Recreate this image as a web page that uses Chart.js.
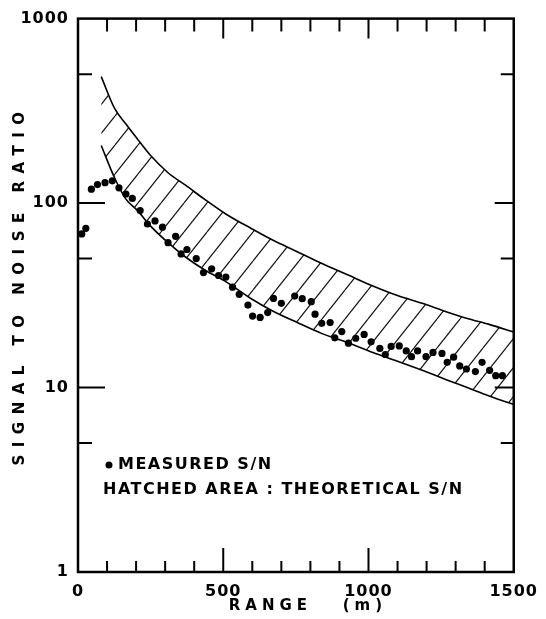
<!DOCTYPE html>
<html>
<head>
<meta charset="utf-8">
<script src="https://cdn.jsdelivr.net/npm/chart.js@4"></script>
<style>
  body { margin: 0; background: #fff; }
  #wrap { width: 546px; height: 619px; }
</style>
</head>
<body>
<div id="wrap"><canvas id="snChart" width="546" height="619"></canvas></div>
<script>
// measured S/N (dots)
var measuredRange = [13, 27, 46, 67, 93, 118, 141, 165, 187, 214,
    239, 265, 291, 310, 336, 355, 375, 407, 432, 460,
    484, 509, 532, 555, 585, 601, 627, 653, 673, 700,
    746, 772, 803, 816, 839, 868, 884, 908, 931, 956,
    985, 1009, 1039, 1058, 1078, 1106, 1130, 1148, 1169, 1198,
    1222, 1253, 1271, 1293, 1314, 1337, 1368, 1391, 1417, 1438, 1461];
var measuredSN = [68, 73, 119, 126, 129, 132, 121, 112, 106, 91,
    77, 80, 74, 61, 66, 53, 56, 50, 42, 44,
    40.5, 39.7, 35, 32, 28, 24.4, 24, 25.5, 30.4, 28.6,
    31.3, 30.3, 29.2, 25, 22.3, 22.5, 18.6, 20.1, 17.4, 18.5,
    19.4, 17.7, 16.3, 15.1, 16.7, 16.8, 15.8, 14.7, 15.8, 14.7,
    15.5, 15.3, 13.7, 14.6, 13.1, 12.6, 12.2, 13.7, 12.4, 11.6, 11.6];

// theoretical S/N band (hatched)
var theoRange = [80, 125, 165, 205, 250, 310, 370, 435, 510, 595, 670, 755, 840, 930, 1015, 1100, 1185, 1270, 1340, 1415, 1500];
var theoUpper = [485, 328, 268, 222, 181, 146, 125, 105, 87, 73, 63, 54.5, 47, 40.7, 35.5, 31.5, 28.6, 25.7, 23.7, 22, 20];
var theoLower = [205, 138, 105, 91, 75, 61, 51, 43.5, 37.4, 30.4, 26, 22.5, 19.6, 17.5, 15.5, 13.9, 12.4, 11, 10, 9, 8.1];

var xTickLabels = [0, 500, 1000, 1500];
var yTickLabels = [1, 10, 100, 1000];

var legendLines = ['MEASURED S/N', 'HATCHED AREA : THEORETICAL S/N'];
var xTitle = 'RANGE   (m)';
var yTitle = 'SIGNAL TO NOISE RATIO';

function pts(xs, ys) {
    return xs.map(function (x, i) { return { x: x, y: ys[i] }; });
}

function hatch() {
    var w = 23, h = 29;
    var c = document.createElement('canvas');
    c.width = w; c.height = h;
    var g = c.getContext('2d');
    g.strokeStyle = '#111';
    g.lineWidth = 1.2;
    [-w, 0, w].forEach(function (o) {
        g.beginPath();
        g.moveTo(o, h);
        g.lineTo(o + w, 0);
        g.stroke();
    });
    return g.createPattern(c, 'repeat');
}

var FONT = '"DejaVu Sans", sans-serif';

var paperPlugin = {
    id: 'paper',
    beforeDraw: function (chart) {
        chart.ctx.letterSpacing = '1px';
    },
    afterDraw: function (chart) {
        var ctx = chart.ctx, a = chart.chartArea;
        var xs = chart.scales.x, ys = chart.scales.y;
        ctx.save();
        ctx.strokeStyle = '#000';
        ctx.fillStyle = '#000';
        // inward ticks
        ctx.lineWidth = 2;
        for (var v = 100; v < 1500; v += 100) {
            var px = xs.getPixelForValue(v);
            var big = (v % 500 === 0);
            ctx.beginPath();
            ctx.moveTo(px, a.bottom); ctx.lineTo(px, a.bottom - (big ? 24 : 11));
            ctx.moveTo(px, a.top); ctx.lineTo(px, a.top + (big ? 20 : 13));
            ctx.stroke();
        }
        [5, 10, 50, 100, 500].forEach(function (v) {
            var py = ys.getPixelForValue(v);
            var big = (v === 10 || v === 100);
            ctx.beginPath();
            ctx.moveTo(a.left, py); ctx.lineTo(a.left + (big ? 27 : 14), py);
            ctx.moveTo(a.right, py); ctx.lineTo(a.right - (big ? 19 : 13), py);
            ctx.stroke();
        });
        // frame
        ctx.lineWidth = 2.5;
        ctx.strokeRect(a.left, a.top, a.right - a.left, a.bottom - a.top);

        // legend notes inside the plot
        ctx.font = 'bold 16px ' + FONT;
        ctx.letterSpacing = '1.5px';
        ctx.textBaseline = 'middle';
        ctx.textAlign = 'left';
        ctx.beginPath();
        ctx.arc(a.left + 31, 465, 3.5, 0, Math.PI * 2);
        ctx.fill();
        ctx.fillText(legendLines[0], a.left + 40, 465);
        ctx.fillText(legendLines[1], a.left + 25, 490);

        // axis titles
        ctx.font = 'bold 15px ' + FONT;
        ctx.letterSpacing = '5px';
        ctx.textAlign = 'center';
        ctx.fillText(xTitle, (a.left + a.right) / 2 + 12, 606);
        ctx.letterSpacing = '7.5px';
        ctx.translate(20, 285);
        ctx.rotate(-Math.PI / 2);
        ctx.fillText(yTitle, 0, 0);
        ctx.restore();
    }
};

var chartCanvas = document.getElementById('snChart');
var snChart = new Chart(chartCanvas, {
    type: 'scatter',
    data: {
        datasets: [{
                label: 'theoretical upper',
                type: 'line',
                data: pts(theoRange, theoUpper),
                borderColor: '#000',
                borderWidth: 1.6,
                pointRadius: 0,
                cubicInterpolationMode: 'monotone',
                fill: '+1',
                backgroundColor: hatch()
            }, {
                label: 'theoretical lower',
                type: 'line',
                data: pts(theoRange, theoLower),
                borderColor: '#000',
                borderWidth: 1.6,
                pointRadius: 0,
                cubicInterpolationMode: 'monotone',
                fill: false
            }, {
                label: 'measured',
                data: pts(measuredRange, measuredSN),
                pointRadius: 3.6,
                pointBackgroundColor: '#000',
                pointBorderWidth: 0
            }]
    },
    options: {
        responsive: false,
        animation: false,
        layout: {
            padding: { top: 17, right: 32, left: 0, bottom: 0 }
        },
        plugins: {
            legend: { display: false },
            tooltip: { enabled: false }
        },
        scales: {
            x: {
                type: 'linear',
                min: 0,
                max: 1500,
                afterBuildTicks: function (s) {
                    s.ticks = xTickLabels.map(function (v) { return { value: v }; });
                },
                afterFit: function (s) { s.height = 47; },
                grid: { display: false, drawTicks: false },
                border: { display: false },
                ticks: {
                    padding: 10,
                    maxRotation: 0,
                    color: '#000',
                    font: { family: FONT, size: 16, weight: 'bold' },
                    callback: function (v) { return String(v); }
                }
            },
            y: {
                type: 'logarithmic',
                min: 1,
                max: 1000,
                afterBuildTicks: function (s) {
                    s.ticks = yTickLabels.map(function (v) { return { value: v }; });
                },
                afterFit: function (s) { s.width = 78; },
                grid: { display: false, drawTicks: false },
                border: { display: false },
                ticks: {
                    padding: 9,
                    color: '#000',
                    font: { family: FONT, size: 16, weight: 'bold' },
                    callback: function (v) { return String(v); }
                }
            }
        }
    },
    plugins: [paperPlugin]
});
</script>
</body>
</html>
